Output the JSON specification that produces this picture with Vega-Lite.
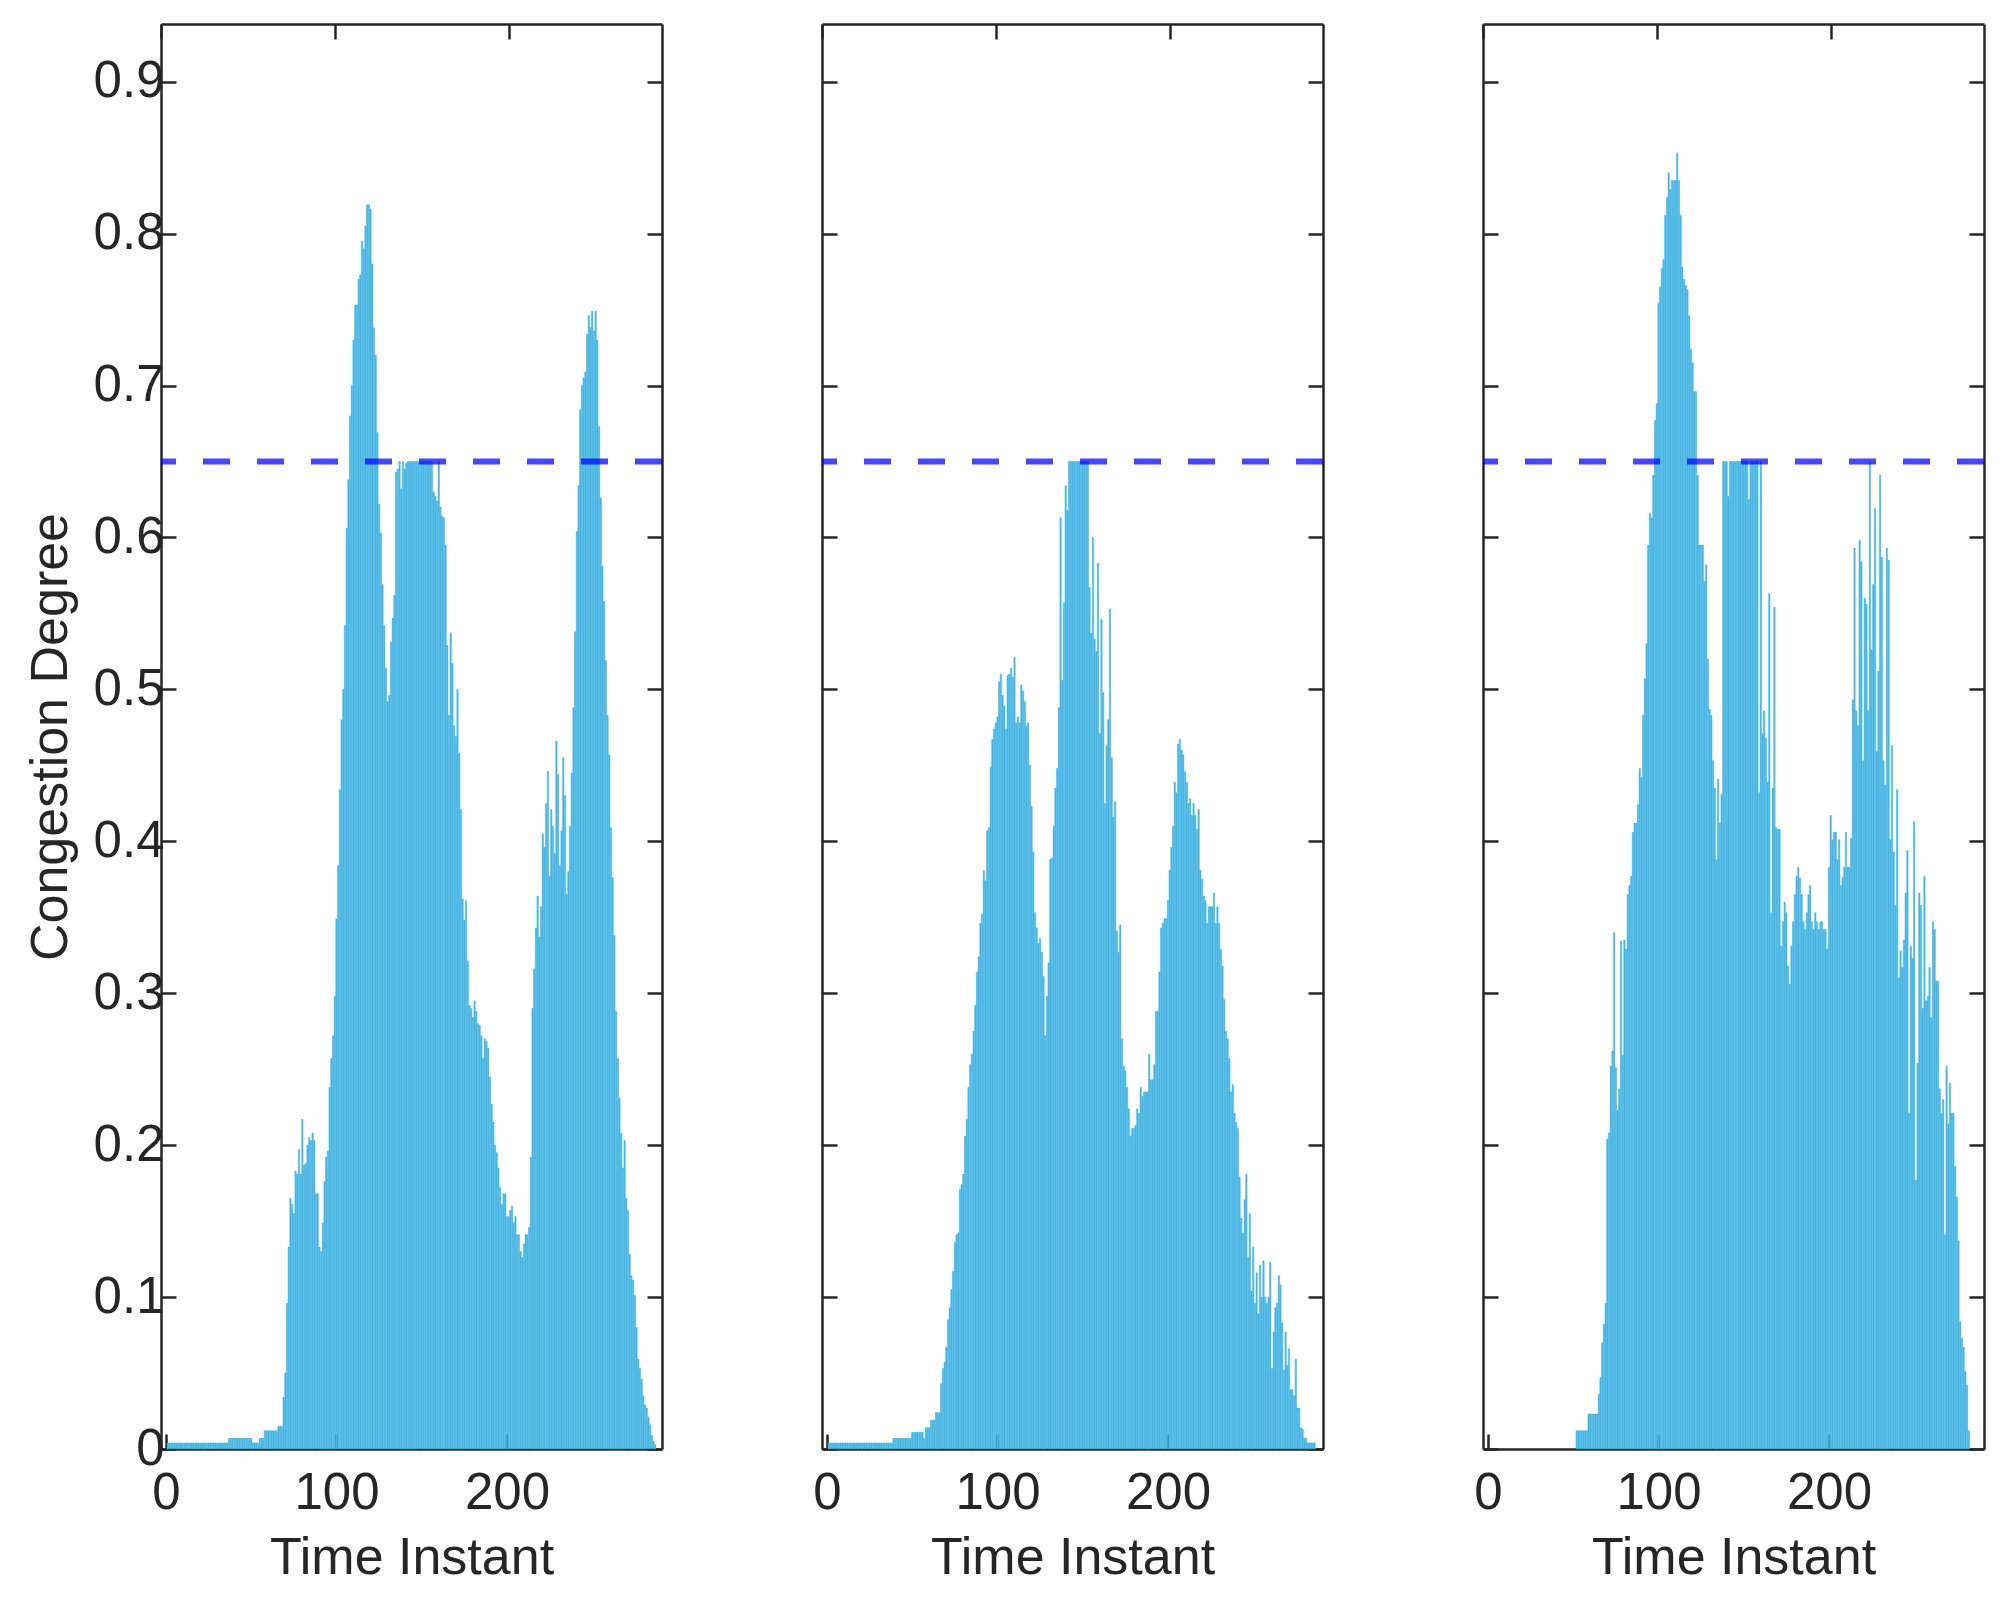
{
  "$schema": "https://vega.github.io/schema/vega-lite/v6.json",
  "background": "white",
  "padding": {"left": 24, "top": 22, "right": 0, "bottom": 0},
  "spacing": 160,
  "bounds": "flush",
  "datasets": {
    "thr": [{"level": 0.65, "start": 0}],
    "p1": [
      {"t":1,"v":0.004},{"t":2,"v":0.004},{"t":3,"v":0.004},{"t":4,"v":0.004},{"t":5,"v":0.004},{"t":6,"v":0.004},{"t":7,"v":0.004},{"t":8,"v":0.004},{"t":9,"v":0.004},{"t":10,"v":0.004},
      {"t":11,"v":0.004},{"t":12,"v":0.004},{"t":13,"v":0.004},{"t":14,"v":0.004},{"t":15,"v":0.004},{"t":16,"v":0.004},{"t":17,"v":0.004},{"t":18,"v":0.004},{"t":19,"v":0.004},{"t":20,"v":0.004},
      {"t":21,"v":0.004},{"t":22,"v":0.004},{"t":23,"v":0.004},{"t":24,"v":0.004},{"t":25,"v":0.004},{"t":26,"v":0.004},{"t":27,"v":0.004},{"t":28,"v":0.004},{"t":29,"v":0.004},{"t":30,"v":0.004},
      {"t":31,"v":0.004},{"t":32,"v":0.004},{"t":33,"v":0.004},{"t":34,"v":0.004},{"t":35,"v":0.004},{"t":36,"v":0.004},{"t":37,"v":0.007},{"t":38,"v":0.007},{"t":39,"v":0.007},{"t":40,"v":0.007},
      {"t":41,"v":0.007},{"t":42,"v":0.007},{"t":43,"v":0.007},{"t":44,"v":0.007},{"t":45,"v":0.007},{"t":46,"v":0.007},{"t":47,"v":0.007},{"t":48,"v":0.007},{"t":49,"v":0.007},{"t":50,"v":0.007},
      {"t":51,"v":0.004},{"t":52,"v":0.004},{"t":53,"v":0.004},{"t":54,"v":0.004},{"t":55,"v":0.007},{"t":56,"v":0.007},{"t":57,"v":0.007},{"t":58,"v":0.012},{"t":59,"v":0.012},{"t":60,"v":0.012},
      {"t":61,"v":0.012},{"t":62,"v":0.012},{"t":63,"v":0.012},{"t":64,"v":0.012},{"t":65,"v":0.012},{"t":66,"v":0.015},{"t":67,"v":0.015},{"t":68,"v":0.015},{"t":69,"v":0.034},{"t":70,"v":0.05},
      {"t":71,"v":0.096},{"t":72,"v":0.133},{"t":73,"v":0.165},{"t":74,"v":0.161},{"t":75,"v":0.155},{"t":76,"v":0.183},{"t":77,"v":0.181},{"t":78,"v":0.197},{"t":79,"v":0.181},{"t":80,"v":0.217},
      {"t":81,"v":0.187},{"t":82,"v":0.188},{"t":83,"v":0.2},{"t":84,"v":0.205},{"t":85,"v":0.203},{"t":86,"v":0.208},{"t":87,"v":0.203},{"t":88,"v":0.168},{"t":89,"v":0.168},{"t":90,"v":0.133},
      {"t":91,"v":0.13},{"t":92,"v":0.149},{"t":93,"v":0.176},{"t":94,"v":0.192},{"t":95,"v":0.196},{"t":96,"v":0.238},{"t":97,"v":0.257},{"t":98,"v":0.272},{"t":99,"v":0.298},{"t":100,"v":0.349},
      {"t":101,"v":0.384},{"t":102,"v":0.434},{"t":103,"v":0.48},{"t":104,"v":0.5},{"t":105,"v":0.542},{"t":106,"v":0.606},{"t":107,"v":0.638},{"t":108,"v":0.68},{"t":109,"v":0.7},{"t":110,"v":0.73},
      {"t":111,"v":0.753},{"t":112,"v":0.753},{"t":113,"v":0.77},{"t":114,"v":0.773},{"t":115,"v":0.795},{"t":116,"v":0.79},{"t":117,"v":0.805},{"t":118,"v":0.819},{"t":119,"v":0.819},{"t":120,"v":0.816},
      {"t":121,"v":0.78},{"t":122,"v":0.738},{"t":123,"v":0.72},{"t":124,"v":0.669},{"t":125,"v":0.622},{"t":126,"v":0.603},{"t":127,"v":0.569},{"t":128,"v":0.542},{"t":129,"v":0.514},{"t":130,"v":0.492},
      {"t":131,"v":0.496},{"t":132,"v":0.531},{"t":133,"v":0.547},{"t":134,"v":0.562},{"t":135,"v":0.643},{"t":136,"v":0.645},{"t":137,"v":0.65},{"t":138,"v":0.632},{"t":139,"v":0.65},{"t":140,"v":0.645},
      {"t":141,"v":0.649},{"t":142,"v":0.65},{"t":143,"v":0.65},{"t":144,"v":0.65},{"t":145,"v":0.65},{"t":146,"v":0.65},{"t":147,"v":0.65},{"t":148,"v":0.65},{"t":149,"v":0.65},{"t":150,"v":0.65},
      {"t":151,"v":0.65},{"t":152,"v":0.65},{"t":153,"v":0.65},{"t":154,"v":0.65},{"t":155,"v":0.65},{"t":156,"v":0.65},{"t":157,"v":0.63},{"t":158,"v":0.627},{"t":159,"v":0.624},{"t":160,"v":0.65},
      {"t":161,"v":0.62},{"t":162,"v":0.614},{"t":163,"v":0.613},{"t":164,"v":0.595},{"t":165,"v":0.529},{"t":166,"v":0.483},{"t":167,"v":0.537},{"t":168,"v":0.517},{"t":169,"v":0.476},{"t":170,"v":0.469},
      {"t":171,"v":0.5},{"t":172,"v":0.458},{"t":173,"v":0.421},{"t":174,"v":0.362},{"t":175,"v":0.348},{"t":176,"v":0.361},{"t":177,"v":0.321},{"t":178,"v":0.292},{"t":179,"v":0.29},{"t":180,"v":0.284},
      {"t":181,"v":0.295},{"t":182,"v":0.288},{"t":183,"v":0.28},{"t":184,"v":0.279},{"t":185,"v":0.272},{"t":186,"v":0.257},{"t":187,"v":0.27},{"t":188,"v":0.268},{"t":189,"v":0.264},{"t":190,"v":0.245},
      {"t":191,"v":0.227},{"t":192,"v":0.215},{"t":193,"v":0.2},{"t":194,"v":0.195},{"t":195,"v":0.185},{"t":196,"v":0.172},{"t":197,"v":0.161},{"t":198,"v":0.168},{"t":199,"v":0.168},{"t":200,"v":0.153},
      {"t":201,"v":0.153},{"t":202,"v":0.157},{"t":203,"v":0.16},{"t":204,"v":0.149},{"t":205,"v":0.153},{"t":206,"v":0.141},{"t":207,"v":0.141},{"t":208,"v":0.13},{"t":209,"v":0.126},{"t":210,"v":0.135},
      {"t":211,"v":0.141},{"t":212,"v":0.141},{"t":213,"v":0.146},{"t":214,"v":0.192},{"t":215,"v":0.29},{"t":216,"v":0.316},{"t":217,"v":0.343},{"t":218,"v":0.364},{"t":219,"v":0.337},{"t":220,"v":0.357},
      {"t":221,"v":0.405},{"t":222,"v":0.396},{"t":223,"v":0.425},{"t":224,"v":0.446},{"t":225,"v":0.377},{"t":226,"v":0.421},{"t":227,"v":0.41},{"t":228,"v":0.392},{"t":229,"v":0.466},{"t":230,"v":0.444},
      {"t":231,"v":0.384},{"t":232,"v":0.407},{"t":233,"v":0.455},{"t":234,"v":0.43},{"t":235,"v":0.365},{"t":236,"v":0.38},{"t":237,"v":0.41},{"t":238,"v":0.445},{"t":239,"v":0.488},{"t":240,"v":0.538},
      {"t":241,"v":0.604},{"t":242,"v":0.634},{"t":243,"v":0.684},{"t":244,"v":0.7},{"t":245,"v":0.705},{"t":246,"v":0.709},{"t":247,"v":0.734},{"t":248,"v":0.746},{"t":249,"v":0.738},{"t":250,"v":0.749},
      {"t":251,"v":0.736},{"t":252,"v":0.749},{"t":253,"v":0.73},{"t":254,"v":0.673},{"t":255,"v":0.626},{"t":256,"v":0.581},{"t":257,"v":0.558},{"t":258,"v":0.519},{"t":259,"v":0.483},{"t":260,"v":0.457},
      {"t":261,"v":0.409},{"t":262,"v":0.376},{"t":263,"v":0.338},{"t":264,"v":0.288},{"t":265,"v":0.257},{"t":266,"v":0.231},{"t":267,"v":0.208},{"t":268,"v":0.185},{"t":269,"v":0.203},{"t":270,"v":0.165},
      {"t":271,"v":0.157},{"t":272,"v":0.128},{"t":273,"v":0.114},{"t":274,"v":0.111},{"t":275,"v":0.101},{"t":276,"v":0.08},{"t":277,"v":0.059},{"t":278,"v":0.053},{"t":279,"v":0.046},{"t":280,"v":0.035},
      {"t":281,"v":0.029},{"t":282,"v":0.027},{"t":283,"v":0.021},{"t":284,"v":0.016},{"t":285,"v":0.009},{"t":286,"v":0.005},{"t":287,"v":0.003}
    ],
    "p2": [
      {"t":1,"v":0.004},{"t":2,"v":0.004},{"t":3,"v":0.004},{"t":4,"v":0.004},{"t":5,"v":0.004},{"t":6,"v":0.004},{"t":7,"v":0.004},{"t":8,"v":0.004},{"t":9,"v":0.004},{"t":10,"v":0.004},
      {"t":11,"v":0.004},{"t":12,"v":0.004},{"t":13,"v":0.004},{"t":14,"v":0.004},{"t":15,"v":0.004},{"t":16,"v":0.004},{"t":17,"v":0.004},{"t":18,"v":0.004},{"t":19,"v":0.004},{"t":20,"v":0.004},
      {"t":21,"v":0.004},{"t":22,"v":0.004},{"t":23,"v":0.004},{"t":24,"v":0.004},{"t":25,"v":0.004},{"t":26,"v":0.004},{"t":27,"v":0.004},{"t":28,"v":0.004},{"t":29,"v":0.004},{"t":30,"v":0.004},
      {"t":31,"v":0.004},{"t":32,"v":0.004},{"t":33,"v":0.004},{"t":34,"v":0.004},{"t":35,"v":0.004},{"t":36,"v":0.004},{"t":37,"v":0.004},{"t":38,"v":0.004},{"t":39,"v":0.007},{"t":40,"v":0.007},
      {"t":41,"v":0.007},{"t":42,"v":0.007},{"t":43,"v":0.007},{"t":44,"v":0.007},{"t":45,"v":0.007},{"t":46,"v":0.007},{"t":47,"v":0.007},{"t":48,"v":0.007},{"t":49,"v":0.007},{"t":50,"v":0.011},
      {"t":51,"v":0.011},{"t":52,"v":0.011},{"t":53,"v":0.011},{"t":54,"v":0.011},{"t":55,"v":0.011},{"t":56,"v":0.011},{"t":57,"v":0.007},{"t":58,"v":0.014},{"t":59,"v":0.014},{"t":60,"v":0.014},
      {"t":61,"v":0.019},{"t":62,"v":0.019},{"t":63,"v":0.019},{"t":64,"v":0.024},{"t":65,"v":0.024},{"t":66,"v":0.024},{"t":67,"v":0.043},{"t":68,"v":0.053},{"t":69,"v":0.057},{"t":70,"v":0.067},
      {"t":71,"v":0.085},{"t":72,"v":0.093},{"t":73,"v":0.105},{"t":74,"v":0.117},{"t":75,"v":0.136},{"t":76,"v":0.141},{"t":77,"v":0.142},{"t":78,"v":0.171},{"t":79,"v":0.174},{"t":80,"v":0.181},
      {"t":81,"v":0.206},{"t":82,"v":0.217},{"t":83,"v":0.238},{"t":84,"v":0.253},{"t":85,"v":0.26},{"t":86,"v":0.275},{"t":87,"v":0.292},{"t":88,"v":0.314},{"t":89,"v":0.324},{"t":90,"v":0.346},
      {"t":91,"v":0.352},{"t":92,"v":0.381},{"t":93,"v":0.374},{"t":94,"v":0.407},{"t":95,"v":0.409},{"t":96,"v":0.449},{"t":97,"v":0.467},{"t":98,"v":0.474},{"t":99,"v":0.478},{"t":100,"v":0.482},
      {"t":101,"v":0.505},{"t":102,"v":0.51},{"t":103,"v":0.496},{"t":104,"v":0.489},{"t":105,"v":0.474},{"t":106,"v":0.509},{"t":107,"v":0.51},{"t":108,"v":0.514},{"t":109,"v":0.508},{"t":110,"v":0.521},
      {"t":111,"v":0.478},{"t":112,"v":0.482},{"t":113,"v":0.478},{"t":114,"v":0.503},{"t":115,"v":0.499},{"t":116,"v":0.492},{"t":117,"v":0.476},{"t":118,"v":0.478},{"t":119,"v":0.45},{"t":120,"v":0.423},
      {"t":121,"v":0.393},{"t":122,"v":0.353},{"t":123,"v":0.343},{"t":124,"v":0.333},{"t":125,"v":0.336},{"t":126,"v":0.327},{"t":127,"v":0.311},{"t":128,"v":0.272},{"t":129,"v":0.298},{"t":130,"v":0.32},
      {"t":131,"v":0.388},{"t":132,"v":0.389},{"t":133,"v":0.41},{"t":134,"v":0.435},{"t":135,"v":0.448},{"t":136,"v":0.488},{"t":137,"v":0.613},{"t":138,"v":0.506},{"t":139,"v":0.557},{"t":140,"v":0.634},
      {"t":141,"v":0.618},{"t":142,"v":0.65},{"t":143,"v":0.65},{"t":144,"v":0.65},{"t":145,"v":0.65},{"t":146,"v":0.65},{"t":147,"v":0.65},{"t":148,"v":0.65},{"t":149,"v":0.65},{"t":150,"v":0.65},
      {"t":151,"v":0.65},{"t":152,"v":0.65},{"t":153,"v":0.65},{"t":154,"v":0.567},{"t":155,"v":0.537},{"t":156,"v":0.6},{"t":157,"v":0.533},{"t":158,"v":0.525},{"t":159,"v":0.583},{"t":160,"v":0.471},
      {"t":161,"v":0.546},{"t":162,"v":0.498},{"t":163,"v":0.425},{"t":164,"v":0.463},{"t":165,"v":0.48},{"t":166,"v":0.553},{"t":167,"v":0.455},{"t":168,"v":0.416},{"t":169,"v":0.426},{"t":170,"v":0.341},
      {"t":171,"v":0.327},{"t":172,"v":0.345},{"t":173,"v":0.27},{"t":174,"v":0.252},{"t":175,"v":0.249},{"t":176,"v":0.238},{"t":177,"v":0.224},{"t":178,"v":0.206},{"t":179,"v":0.211},{"t":180,"v":0.211},
      {"t":181,"v":0.213},{"t":182,"v":0.224},{"t":183,"v":0.221},{"t":184,"v":0.238},{"t":185,"v":0.232},{"t":186,"v":0.235},{"t":187,"v":0.235},{"t":188,"v":0.235},{"t":189,"v":0.26},{"t":190,"v":0.243},
      {"t":191,"v":0.243},{"t":192,"v":0.253},{"t":193,"v":0.288},{"t":194,"v":0.288},{"t":195,"v":0.314},{"t":196,"v":0.343},{"t":197,"v":0.346},{"t":198,"v":0.349},{"t":199,"v":0.349},{"t":200,"v":0.361},
      {"t":201,"v":0.381},{"t":202,"v":0.396},{"t":203,"v":0.41},{"t":204,"v":0.439},{"t":205,"v":0.432},{"t":206,"v":0.464},{"t":207,"v":0.467},{"t":208,"v":0.46},{"t":209,"v":0.457},{"t":210,"v":0.446},
      {"t":211,"v":0.439},{"t":212,"v":0.425},{"t":213,"v":0.428},{"t":214,"v":0.417},{"t":215,"v":0.425},{"t":216,"v":0.417},{"t":217,"v":0.408},{"t":218,"v":0.421},{"t":219,"v":0.381},{"t":220,"v":0.375},
      {"t":221,"v":0.364},{"t":222,"v":0.361},{"t":223,"v":0.346},{"t":224,"v":0.357},{"t":225,"v":0.357},{"t":226,"v":0.357},{"t":227,"v":0.366},{"t":228,"v":0.346},{"t":229,"v":0.357},{"t":230,"v":0.346},
      {"t":231,"v":0.329},{"t":232,"v":0.318},{"t":233,"v":0.296},{"t":234,"v":0.275},{"t":235,"v":0.27},{"t":236,"v":0.257},{"t":237,"v":0.235},{"t":238,"v":0.24},{"t":239,"v":0.221},{"t":240,"v":0.215},
      {"t":241,"v":0.211},{"t":242,"v":0.179},{"t":243,"v":0.152},{"t":244,"v":0.142},{"t":245,"v":0.164},{"t":246,"v":0.181},{"t":247,"v":0.126},{"t":248,"v":0.155},{"t":249,"v":0.104},{"t":250,"v":0.133},
      {"t":251,"v":0.096},{"t":252,"v":0.116},{"t":253,"v":0.089},{"t":254,"v":0.121},{"t":255,"v":0.1},{"t":256,"v":0.124},{"t":257,"v":0.1},{"t":258,"v":0.096},{"t":259,"v":0.1},{"t":260,"v":0.123},
      {"t":261,"v":0.053},{"t":262,"v":0.077},{"t":263,"v":0.093},{"t":264,"v":0.096},{"t":265,"v":0.114},{"t":266,"v":0.108},{"t":267,"v":0.083},{"t":268,"v":0.052},{"t":269,"v":0.077},{"t":270,"v":0.055},
      {"t":271,"v":0.066},{"t":272,"v":0.039},{"t":273,"v":0.039},{"t":274,"v":0.035},{"t":275,"v":0.059},{"t":276,"v":0.027},{"t":277,"v":0.027},{"t":278,"v":0.014},{"t":279,"v":0.013},{"t":280,"v":0.007},
      {"t":281,"v":0.007},{"t":282,"v":0.004},{"t":283,"v":0.004},{"t":284,"v":0.004},{"t":285,"v":0.004},{"t":286,"v":0.004}
    ],
    "p3": [
      {"t":52,"v":0.012},{"t":53,"v":0.012},{"t":54,"v":0.012},{"t":55,"v":0.012},{"t":56,"v":0.012},{"t":57,"v":0.012},{"t":58,"v":0.012},{"t":59,"v":0.023},{"t":60,"v":0.023},
      {"t":61,"v":0.023},{"t":62,"v":0.023},{"t":63,"v":0.023},{"t":64,"v":0.023},{"t":65,"v":0.036},{"t":66,"v":0.047},{"t":67,"v":0.07},{"t":68,"v":0.082},{"t":69,"v":0.096},{"t":70,"v":0.204},
      {"t":71,"v":0.208},{"t":72,"v":0.252},{"t":73,"v":0.262},{"t":74,"v":0.34},{"t":75,"v":0.251},{"t":76,"v":0.223},{"t":77,"v":0.237},{"t":78,"v":0.334},{"t":79,"v":0.259},{"t":80,"v":0.335},
      {"t":81,"v":0.329},{"t":82,"v":0.365},{"t":83,"v":0.371},{"t":84,"v":0.377},{"t":85,"v":0.406},{"t":86,"v":0.412},{"t":87,"v":0.412},{"t":88,"v":0.424},{"t":89,"v":0.448},{"t":90,"v":0.442},
      {"t":91,"v":0.483},{"t":92,"v":0.507},{"t":93,"v":0.53},{"t":94,"v":0.595},{"t":95,"v":0.616},{"t":96,"v":0.613},{"t":97,"v":0.641},{"t":98,"v":0.677},{"t":99,"v":0.688},{"t":100,"v":0.754},
      {"t":101,"v":0.765},{"t":102,"v":0.777},{"t":103,"v":0.783},{"t":104,"v":0.812},{"t":105,"v":0.824},{"t":106,"v":0.84},{"t":107,"v":0.829},{"t":108,"v":0.835},{"t":109,"v":0.835},{"t":110,"v":0.835},
      {"t":111,"v":0.853},{"t":112,"v":0.835},{"t":113,"v":0.812},{"t":114,"v":0.778},{"t":115,"v":0.77},{"t":116,"v":0.766},{"t":117,"v":0.763},{"t":118,"v":0.746},{"t":119,"v":0.724},{"t":120,"v":0.715},
      {"t":121,"v":0.696},{"t":122,"v":0.696},{"t":123,"v":0.641},{"t":124,"v":0.595},{"t":125,"v":0.595},{"t":126,"v":0.595},{"t":127,"v":0.571},{"t":128,"v":0.582},{"t":129,"v":0.52},{"t":130,"v":0.487},
      {"t":131,"v":0.483},{"t":132,"v":0.453},{"t":133,"v":0.435},{"t":134,"v":0.388},{"t":135,"v":0.441},{"t":136,"v":0.412},{"t":137,"v":0.431},{"t":138,"v":0.65},{"t":139,"v":0.65},{"t":140,"v":0.65},
      {"t":141,"v":0.627},{"t":142,"v":0.65},{"t":143,"v":0.65},{"t":144,"v":0.65},{"t":145,"v":0.65},{"t":146,"v":0.65},{"t":147,"v":0.65},{"t":148,"v":0.65},{"t":149,"v":0.65},{"t":150,"v":0.65},
      {"t":151,"v":0.65},{"t":152,"v":0.65},{"t":153,"v":0.625},{"t":154,"v":0.65},{"t":155,"v":0.65},{"t":156,"v":0.65},{"t":157,"v":0.65},{"t":158,"v":0.65},{"t":159,"v":0.432},{"t":160,"v":0.65},
      {"t":161,"v":0.471},{"t":162,"v":0.486},{"t":163,"v":0.468},{"t":164,"v":0.439},{"t":165,"v":0.563},{"t":166,"v":0.353},{"t":167,"v":0.435},{"t":168,"v":0.554},{"t":169,"v":0.409},{"t":170,"v":0.408},
      {"t":171,"v":0.408},{"t":172,"v":0.331},{"t":173,"v":0.347},{"t":174,"v":0.36},{"t":175,"v":0.353},{"t":176,"v":0.318},{"t":177,"v":0.306},{"t":178,"v":0.331},{"t":179,"v":0.347},{"t":180,"v":0.365},
      {"t":181,"v":0.377},{"t":182,"v":0.383},{"t":183,"v":0.376},{"t":184,"v":0.365},{"t":185,"v":0.347},{"t":186,"v":0.342},{"t":187,"v":0.353},{"t":188,"v":0.365},{"t":189,"v":0.371},{"t":190,"v":0.347},
      {"t":191,"v":0.342},{"t":192,"v":0.353},{"t":193,"v":0.347},{"t":194,"v":0.342},{"t":195,"v":0.347},{"t":196,"v":0.347},{"t":197,"v":0.342},{"t":198,"v":0.342},{"t":199,"v":0.329},{"t":200,"v":0.383},
      {"t":201,"v":0.417},{"t":202,"v":0.401},{"t":203,"v":0.406},{"t":204,"v":0.406},{"t":205,"v":0.388},{"t":206,"v":0.401},{"t":207,"v":0.371},{"t":208,"v":0.376},{"t":209,"v":0.383},{"t":210,"v":0.406},
      {"t":211,"v":0.383},{"t":212,"v":0.383},{"t":213,"v":0.402},{"t":214,"v":0.493},{"t":215,"v":0.593},{"t":216,"v":0.486},{"t":217,"v":0.476},{"t":218,"v":0.598},{"t":219,"v":0.584},{"t":220,"v":0.453},
      {"t":221,"v":0.56},{"t":222,"v":0.556},{"t":223,"v":0.486},{"t":224,"v":0.649},{"t":225,"v":0.526},{"t":226,"v":0.569},{"t":227,"v":0.619},{"t":228,"v":0.459},{"t":229,"v":0.512},{"t":230,"v":0.641},
      {"t":231,"v":0.587},{"t":232,"v":0.453},{"t":233,"v":0.437},{"t":234,"v":0.593},{"t":235,"v":0.585},{"t":236,"v":0.401},{"t":237,"v":0.463},{"t":238,"v":0.393},{"t":239,"v":0.358},{"t":240,"v":0.434},
      {"t":241,"v":0.31},{"t":242,"v":0.328},{"t":243,"v":0.317},{"t":244,"v":0.335},{"t":245,"v":0.366},{"t":246,"v":0.394},{"t":247,"v":0.221},{"t":248,"v":0.331},{"t":249,"v":0.323},{"t":250,"v":0.413},
      {"t":251,"v":0.177},{"t":252,"v":0.254},{"t":253,"v":0.366},{"t":254,"v":0.358},{"t":255,"v":0.29},{"t":256,"v":0.377},{"t":257,"v":0.295},{"t":258,"v":0.298},{"t":259,"v":0.317},{"t":260,"v":0.284},
      {"t":261,"v":0.347},{"t":262,"v":0.342},{"t":263,"v":0.308},{"t":264,"v":0.308},{"t":265,"v":0.237},{"t":266,"v":0.221},{"t":267,"v":0.23},{"t":268,"v":0.141},{"t":269,"v":0.252},{"t":270,"v":0.214},
      {"t":271,"v":0.241},{"t":272,"v":0.221},{"t":273,"v":0.221},{"t":274,"v":0.186},{"t":275,"v":0.166},{"t":276,"v":0.137},{"t":277,"v":0.084},{"t":278,"v":0.073},{"t":279,"v":0.067},{"t":280,"v":0.051},
      {"t":281,"v":0.042},{"t":282,"v":0.012}
    ]
  },
  "hconcat": [
    {
      "width": 501,
      "height": 1425,
      "resolve": {"scale": {"x": "independent", "y": "independent"}, "axis": {"x": "independent", "y": "independent"}},
      "layer": [
        {
          "data": {"name": "p1"},
          "mark": {"type": "bar", "width": 1.4, "fill": "#5DB8E0", "stroke": "#17ACE6", "strokeWidth": 0.4},
          "encoding": {
            "x": {"field": "t", "type": "quantitative", "title": "Time Instant",
              "scale": {"domain": [0, 288], "nice": false, "zero": false},
              "axis": {"orient": "bottom", "values": [0, 100, 200], "format": "d", "labelFlush": false, "labelPadding": 34, "titlePadding": 14}},
            "y": {"field": "v", "type": "quantitative", "title": "Congestion Degree",
              "scale": {"domain": [0, 0.938], "nice": false},
              "axis": {"orient": "left", "values": [0, 0.1, 0.2, 0.3, 0.4, 0.5, 0.6, 0.7, 0.8, 0.9], "format": ".1~f", "labelPadding": 12, "titlePadding": 16}}
          }
        },
        {
          "data": {"name": "thr"},
          "mark": {"type": "rule", "color": "#0000FF", "opacity": 0.72, "strokeWidth": 6, "strokeDash": [27, 27]},
          "encoding": {"y": {"field": "level", "type": "quantitative", "scale": {"domain": [0, 0.938], "nice": false}, "axis": null}}
        },
        {
          "data": {"name": "thr"},
          "mark": {"type": "point", "opacity": 0},
          "encoding": {
            "x": {"field": "start", "type": "quantitative", "title": null, "scale": {"domain": [0, 288], "nice": false, "zero": false},
              "axis": {"orient": "top", "values": [0, 100, 200], "labels": false}},
            "y": {"field": "level", "type": "quantitative", "title": null, "scale": {"domain": [0, 0.938], "nice": false},
              "axis": {"orient": "right", "values": [0, 0.1, 0.2, 0.3, 0.4, 0.5, 0.6, 0.7, 0.8, 0.9], "labels": false}}
          }
        }
      ]
    },
    {
      "width": 501,
      "height": 1425,
      "resolve": {"scale": {"x": "independent", "y": "independent"}, "axis": {"x": "independent", "y": "independent"}},
      "layer": [
        {
          "data": {"name": "p2"},
          "mark": {"type": "bar", "width": 1.4, "fill": "#5DB8E0", "stroke": "#17ACE6", "strokeWidth": 0.4},
          "encoding": {
            "x": {"field": "t", "type": "quantitative", "title": "Time Instant",
              "scale": {"domain": [0, 288], "nice": false, "zero": false},
              "axis": {"orient": "bottom", "values": [0, 100, 200], "format": "d", "labelFlush": false, "labelPadding": 34, "titlePadding": 14}},
            "y": {"field": "v", "type": "quantitative", "title": null,
              "scale": {"domain": [0, 0.938], "nice": false},
              "axis": {"orient": "left", "values": [0, 0.1, 0.2, 0.3, 0.4, 0.5, 0.6, 0.7, 0.8, 0.9], "labels": false}}
          }
        },
        {
          "data": {"name": "thr"},
          "mark": {"type": "rule", "color": "#0000FF", "opacity": 0.72, "strokeWidth": 6, "strokeDash": [27, 27]},
          "encoding": {"y": {"field": "level", "type": "quantitative", "scale": {"domain": [0, 0.938], "nice": false}, "axis": null}}
        },
        {
          "data": {"name": "thr"},
          "mark": {"type": "point", "opacity": 0},
          "encoding": {
            "x": {"field": "start", "type": "quantitative", "title": null, "scale": {"domain": [0, 288], "nice": false, "zero": false},
              "axis": {"orient": "top", "values": [0, 100, 200], "labels": false}},
            "y": {"field": "level", "type": "quantitative", "title": null, "scale": {"domain": [0, 0.938], "nice": false},
              "axis": {"orient": "right", "values": [0, 0.1, 0.2, 0.3, 0.4, 0.5, 0.6, 0.7, 0.8, 0.9], "labels": false}}
          }
        }
      ]
    },
    {
      "width": 501,
      "height": 1425,
      "resolve": {"scale": {"x": "independent", "y": "independent"}, "axis": {"x": "independent", "y": "independent"}},
      "layer": [
        {
          "data": {"name": "p3"},
          "mark": {"type": "bar", "width": 1.4, "fill": "#5DB8E0", "stroke": "#17ACE6", "strokeWidth": 0.4},
          "encoding": {
            "x": {"field": "t", "type": "quantitative", "title": "Time Instant",
              "scale": {"domain": [0, 288], "nice": false, "zero": false},
              "axis": {"orient": "bottom", "values": [0, 100, 200], "format": "d", "labelFlush": false, "labelPadding": 34, "titlePadding": 14}},
            "y": {"field": "v", "type": "quantitative", "title": null,
              "scale": {"domain": [0, 0.938], "nice": false},
              "axis": {"orient": "left", "values": [0, 0.1, 0.2, 0.3, 0.4, 0.5, 0.6, 0.7, 0.8, 0.9], "labels": false}}
          }
        },
        {
          "data": {"name": "thr"},
          "mark": {"type": "rule", "color": "#0000FF", "opacity": 0.72, "strokeWidth": 6, "strokeDash": [27, 27]},
          "encoding": {"y": {"field": "level", "type": "quantitative", "scale": {"domain": [0, 0.938], "nice": false}, "axis": null}}
        },
        {
          "data": {"name": "thr"},
          "mark": {"type": "point", "opacity": 0},
          "encoding": {
            "x": {"field": "start", "type": "quantitative", "title": null, "scale": {"domain": [0, 288], "nice": false, "zero": false},
              "axis": {"orient": "top", "values": [0, 100, 200], "labels": false}},
            "y": {"field": "level", "type": "quantitative", "title": null, "scale": {"domain": [0, 0.938], "nice": false},
              "axis": {"orient": "right", "values": [0, 0.1, 0.2, 0.3, 0.4, 0.5, 0.6, 0.7, 0.8, 0.9], "labels": false}}
          }
        }
      ]
    }
  ],
  "config": {
    "view": {"stroke": null},
    "axis": {
      "grid": false,
      "zindex": 1,
      "domainColor": "#262626",
      "domainWidth": 2.5,
      "tickColor": "#262626",
      "tickWidth": 2.5,
      "tickSize": -15,
      "labelFont": "Liberation Sans",
      "labelFontSize": 51,
      "labelColor": "#262626",
      "titleFont": "Liberation Sans",
      "titleFontSize": 52,
      "titleFontWeight": "normal",
      "titleColor": "#262626"
    }
  }
}
